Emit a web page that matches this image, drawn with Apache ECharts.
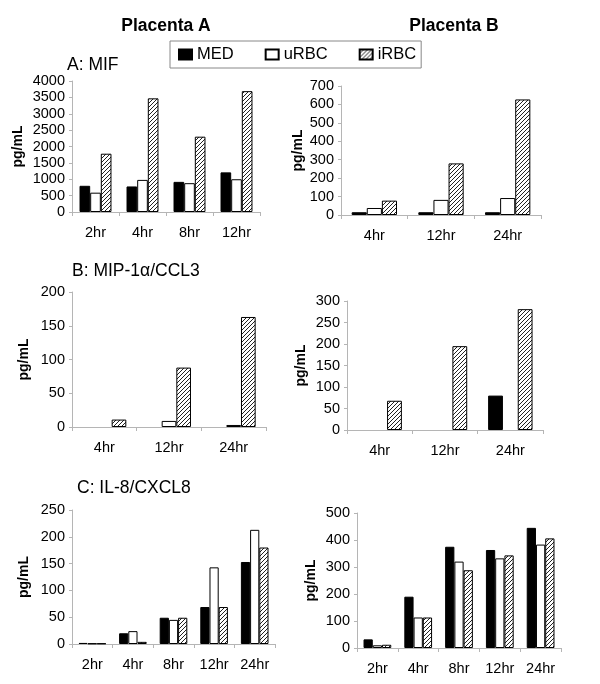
<!DOCTYPE html>
<html><head><meta charset="utf-8">
<script src="https://cdn.jsdelivr.net/npm/echarts@6/dist/echarts.min.js"></script>
<style>html,body{margin:0;padding:0;background:#fff}#c{width:600px;height:684px}</style>
</head><body><div id="c"></div>
<script>
// ---- data ----
const catsA1 = ['2hr', '4hr', '8hr', '12hr'];
const medA1 = [800, 780, 920, 1210];
const urbcA1 = [590, 980, 880, 1000];
const irbcA1 = [1780, 3470, 2300, 3690];

const catsA2 = ['4hr', '12hr', '24hr'];
const medA2 = [15, 15, 15];
const urbcA2 = [38, 82, 92];
const irbcA2 = [78, 280, 627];

const catsB1 = ['4hr', '12hr', '24hr'];
const medB1 = [0, 0, 0];
const urbcB1 = [0, 9, 3];
const irbcB1 = [11, 88, 163];

const catsB2 = ['4hr', '12hr', '24hr'];
const medB2 = [0, 0, 80];
const urbcB2 = [0, 0, 0];
const irbcB2 = [68, 195, 281];

const catsC1 = ['2hr', '4hr', '8hr', '12hr', '24hr'];
const medC1 = [2, 20, 49, 69, 153];
const urbcC1 = [1, 24, 45, 143, 213];
const irbcC1 = [1, 4, 49, 69, 180];

const catsC2 = ['2hr', '4hr', '8hr', '12hr', '24hr'];
const medC2 = [32, 190, 375, 363, 445];
const urbcC2 = [10, 113, 320, 332, 383];
const irbcC2 = [12, 113, 288, 343, 406];

const yMax = [4000, 700, 200, 300, 250, 500];
const yStep = [500, 100, 50, 50, 50, 100];

// ---- styles ----
const FONT = 'Liberation Sans, Arial, sans-serif';
const hatch = document.createElement('canvas');
hatch.width = 4; hatch.height = 4;
(function () {
  const g = hatch.getContext('2d');
  g.fillStyle = '#fff'; g.fillRect(0, 0, 4, 4);
  g.strokeStyle = '#222'; g.lineWidth = 1;
  g.beginPath();
  g.moveTo(0, 4); g.lineTo(4, 0);
  g.moveTo(-1, 1); g.lineTo(1, -1);
  g.moveTo(3, 5); g.lineTo(5, 3);
  g.stroke();
})();

const grids = [
  {left: 72, top: 81, width: 188, height: 131},
  {left: 341, top: 86, width: 200, height: 129},
  {left: 72, top: 292, width: 194, height: 135},
  {left: 347, top: 301, width: 196, height: 129},
  {left: 72, top: 510, width: 203, height: 134},
  {left: 357, top: 513, width: 204, height: 135}
];
const nameGaps = [47, 36, 41, 39, 41, 39];
const cats = [catsA1, catsA2, catsB1, catsB2, catsC1, catsC2];
const meds = [medA1, medA2, medB1, medB2, medC1, medC2];
const urbcs = [urbcA1, urbcA2, urbcB1, urbcB2, urbcC1, urbcC2];
const irbcs = [irbcA1, irbcA2, irbcB1, irbcB2, irbcC1, irbcC2];

const axisGrey = '#b5b5b5';
const xAxis = [], yAxis = [], series = [];
const show = v => (v === 0 ? '-' : v);
for (let i = 0; i < 6; i++) {
  xAxis.push({
    type: 'category', gridIndex: i, data: cats[i],
    axisLine: {lineStyle: {color: axisGrey, width: 1}},
    axisTick: {show: true, length: 4, lineStyle: {color: axisGrey}},
    axisLabel: {color: '#000', fontSize: 14.5, fontFamily: FONT, margin: 13}
  });
  yAxis.push({
    type: 'value', gridIndex: i, min: 0, max: yMax[i], interval: yStep[i],
    name: 'pg/mL', nameLocation: 'middle', nameRotate: 90, nameGap: nameGaps[i],
    nameTextStyle: {color: '#000', fontSize: 14, fontWeight: 'bold', fontFamily: FONT},
    axisLine: {show: true, lineStyle: {color: axisGrey, width: 1}},
    axisTick: {show: true, length: 3, lineStyle: {color: axisGrey}},
    splitLine: {show: false},
    axisLabel: {color: '#000', fontSize: 14.5, fontFamily: FONT, margin: 7,
      formatter: v => String(v)}
  });
  const common = {type: 'bar', xAxisIndex: i, yAxisIndex: i, barGap: '0%', barCategoryGap: '32%'};
  series.push(Object.assign({}, common, {name: 'MED', data: meds[i].map(show),
    itemStyle: {color: '#000', borderColor: '#000', borderWidth: 1}}));
  series.push(Object.assign({}, common, {name: 'uRBC', data: urbcs[i].map(show),
    itemStyle: {color: '#fff', borderColor: '#000', borderWidth: 1}}));
  series.push(Object.assign({}, common, {name: 'iRBC', data: irbcs[i].map(show),
    itemStyle: {color: {image: hatch, repeat: 'repeat'}, borderColor: '#000', borderWidth: 1}}));
}

const chart = echarts.init(document.getElementById('c'), null, {renderer: 'canvas'});
chart.setOption({
  animation: false,
  backgroundColor: '#fff',
  title: [
    {text: 'Placenta A', left: 161, top: 12, textAlign: 'center',
     textStyle: {fontSize: 17.5, fontWeight: 'bold', color: '#000', fontFamily: FONT}},
    {text: 'Placenta B', left: 449, top: 12, textAlign: 'center',
     textStyle: {fontSize: 17.5, fontWeight: 'bold', color: '#000', fontFamily: FONT}},
    {text: 'A: MIF', left: 62, top: 51,
     textStyle: {fontSize: 17.5, fontWeight: 'normal', color: '#000', fontFamily: FONT}},
    {text: 'B: MIP-1α/CCL3', left: 67, top: 257,
     textStyle: {fontSize: 17.5, fontWeight: 'normal', color: '#000', fontFamily: FONT}},
    {text: 'C: IL-8/CXCL8', left: 72, top: 474,
     textStyle: {fontSize: 17.5, fontWeight: 'normal', color: '#000', fontFamily: FONT}}
  ],
  legend: {
    data: ['MED', 'uRBC', 'iRBC'],
    icon: 'rect',
    left: 170, top: 41,
    padding: [5, 5, 5, 8],
    itemWidth: 13, itemHeight: 10, itemGap: 31,
    borderColor: '#888', borderWidth: 1,
    textStyle: {fontSize: 16.5, color: '#000', fontFamily: FONT}
  },
  grid: grids,
  xAxis: xAxis,
  yAxis: yAxis,
  series: series
});
</script>
</body></html>
